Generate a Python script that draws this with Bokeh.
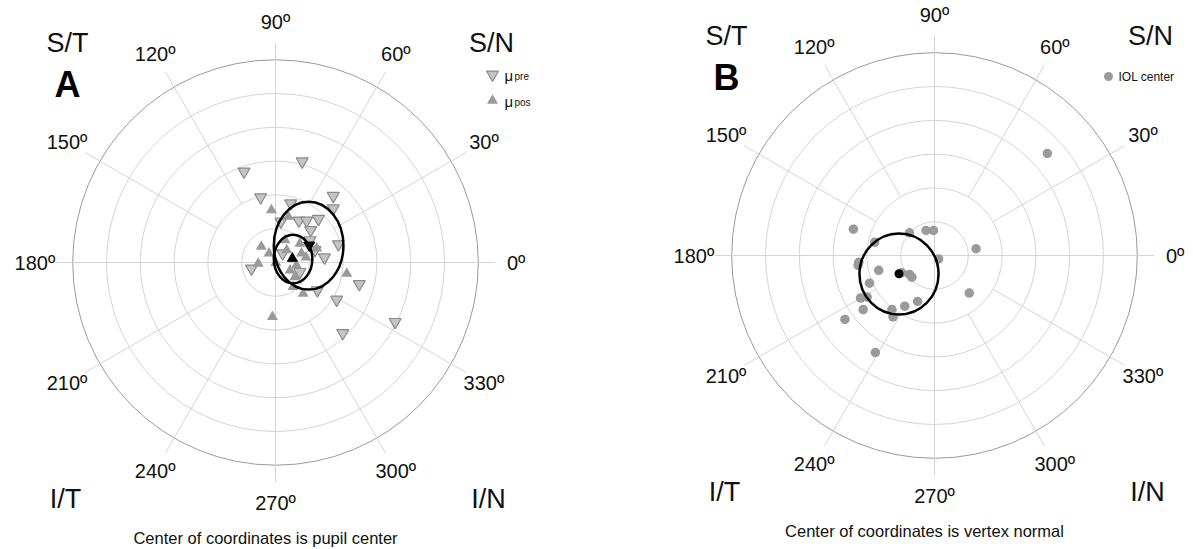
import numpy as np
from bokeh.plotting import figure
from bokeh.layouts import row
from bokeh.models import Range1d
from bokeh.core.properties import value
from bokeh.embed import file_html
from bokeh.resources import INLINE

# ---------------- data (ring units: one ring = 1) ----------------
angle_ticks = [0, 30, 60, 90, 120, 150, 180, 210, 240, 270, 300, 330]
angle_labels = ["0º", "30º", "60º", "90º", "120º", "150º", "180º", "210º", "240º", "270º", "300º", "330º"]
rings = [1, 2, 3, 4, 5, 6]

# Panel A: decentration relative to pupil center
pre_x = [-0.93, 0.79, -0.44, 0.45, 1.71, 1.71, 0.69, 0.92, 1.27, 0.16, 1.04, 1.86,
         1.45, 0.21, -0.71, 0.72, 2.48, 1.24, 1.81, 3.54, 1.99, 1.02, 1.17]
pre_y = [2.69, 2.99, 1.93, 1.75, 1.97, 1.60, 1.24, 1.24, 1.29, 1.21, 0.96, 0.54,
         0.15, 0.27, -0.18, -0.28, -0.64, -0.82, -1.10, -1.76, -2.09, 0.66, 0.37]
pos_x = [-0.12, 0.38, -0.42, -0.19, -0.51, 0.01, 0.33, 0.72, 1.22, 0.90, 0.62, 0.43,
         0.57, 0.52, 0.82, 2.11, -0.09, 0.28, 0.77]
pos_y = [1.55, 1.36, 0.47, 0.27, -0.03, -0.01, 0.37, 0.56, 0.42, 0.15, -0.08, -0.23,
         -0.43, -0.72, -0.92, -0.33, -1.61, 0.66, 0.27]
mean_pre = (1.00, 0.51)
mean_pos = (0.50, 0.12)
ell_pre = (0.98, 0.50, 2.06, 2.60)   # cx, cy, width, height
ell_pos = (0.52, 0.10, 1.14, 1.44)

# Panel B: IOL center relative to vertex normal
iol_x = [-2.40, -0.74, -0.25, -0.03, 1.23, -1.77, -2.24, -2.26, -1.65, 0.12, -0.74, -0.67,
         -1.92, -2.19, -1.99, -2.11, -2.65, -1.26, -1.23, -0.88, -0.50, 1.03, -1.75, 3.34, -0.97]
iol_y = [0.78, 0.67, 0.74, 0.74, 0.20, 0.39, -0.20, -0.29, -0.44, -0.10, -0.56, -0.64,
         -0.82, -1.26, -1.23, -1.60, -1.89, -1.60, -1.82, -1.50, -1.36, -1.11, -2.87, 3.02, -0.51]
mean_iol = (-1.05, -0.54)
ell_iol = (-1.05, -0.55, 2.34, 2.40)

# ---------------- layout ----------------
SCALE = 33.8
FONT = "Liberation Sans"
TOP, BOTTOM = 0, 549


def base_fig(cx, cy, left, width):
    x0 = (left - cx) / SCALE
    x1 = (left + width - cx) / SCALE
    y1 = (cy - TOP) / SCALE
    y0 = -(BOTTOM - cy) / SCALE
    p = figure(width=width, height=BOTTOM - TOP, x_range=Range1d(x0, x1), y_range=Range1d(y0, y1),
               output_backend="svg", toolbar_location=None, min_border=0)
    p.axis.visible = False
    p.grid.visible = False
    p.outline_line_color = None
    p.background_fill_color = "white"
    p.border_fill_color = "white"

    # rings
    p.circle(x=[0] * 5, y=[0] * 5, radius=rings[:5], fill_color=None, line_color="#d4d4d4", line_width=1)
    p.circle(x=[0], y=[0], radius=[rings[-1]], fill_color=None, line_color="#9a9a9a", line_width=1)
    # spokes
    a = np.deg2rad(np.array(angle_ticks, dtype=float))
    r0 = np.array([0 if t % 90 == 0 else 2 for t in angle_ticks], dtype=float)
    r1 = 6.5
    p.segment(x0=r0 * np.cos(a), y0=r0 * np.sin(a), x1=r1 * np.cos(a), y1=r1 * np.sin(a),
              line_color="#d4d4d4", line_width=1)
    # angle labels
    rl = 7.12
    p.text(x=rl * np.cos(a), y=rl * np.sin(a), text=angle_labels, text_font=value(FONT),
           text_font_size=value("20px"), text_align="center", text_baseline="middle", text_color="#111111")
    # corner labels
    cl = dict(text_font=value(FONT), text_font_size=value("27px"), text_align="center",
              text_baseline="middle", text_color="#111111")
    p.text(x=[-208 / SCALE], y=[220 / SCALE], text=["S/T"], **cl)
    p.text(x=[216 / SCALE], y=[220 / SCALE], text=["S/N"], **cl)
    p.text(x=[-210 / SCALE], y=[-236 / SCALE], text=["I/T"], **cl)
    p.text(x=[213 / SCALE], y=[-236 / SCALE], text=["I/N"], **cl)
    return p


def caption(p, txt):
    p.text(x=[-10 / SCALE], y=[-275 / SCALE], text=[txt], text_font=value(FONT), text_font_size=value("16.5px"),
           text_align="center", text_baseline="middle", text_color="#111111")


def panel_letter(p, letter):
    p.text(x=[-208 / SCALE], y=[178 / SCALE], text=[letter], text_font=value(FONT),
           text_font_size=value("36px"), text_font_style="bold", text_align="center",
           text_baseline="middle", text_color="#000000")


# Panel A
pA = base_fig(275, 262, 0, 596)
pA.inverted_triangle(x=pre_x, y=pre_y, size=12, fill_color="#c4c4c4", line_color="#8a8a8a", line_width=1.2)
pA.triangle(x=pos_x, y=pos_y, size=11, fill_color="#9a9a9a", line_color=None)
pA.ellipse(x=[ell_pre[0]], y=[ell_pre[1]], width=[ell_pre[2]], height=[ell_pre[3]],
           fill_color=None, line_color="black", line_width=2.5)
pA.ellipse(x=[ell_pos[0]], y=[ell_pos[1]], width=[ell_pos[2]], height=[ell_pos[3]],
           fill_color=None, line_color="black", line_width=2.5)
pA.inverted_triangle(x=[mean_pre[0]], y=[mean_pre[1]], size=11, fill_color="black", line_color="black")
pA.triangle(x=[mean_pos[0]], y=[mean_pos[1]], size=10, fill_color="black", line_color="black")
# legend A
lx, ly1, ly2 = 217 / SCALE, 188 / SCALE, 162 / SCALE
pA.inverted_triangle(x=[lx], y=[ly1], size=12, fill_color="#c4c4c4", line_color="#8a8a8a", line_width=1.2)
pA.triangle(x=[lx], y=[ly2], size=11, fill_color="#9a9a9a", line_color=None)
mu = dict(text_font=value(FONT), text_font_size=value("15px"), text_align="left",
          text_baseline="middle", text_color="#111111")
sub = dict(text_font=value(FONT), text_font_size=value("10px"), text_align="left",
           text_baseline="middle", text_color="#111111")
pA.text(x=[lx + 12 / SCALE], y=[ly1 - 1 / SCALE], text=["μ"], **mu)
pA.text(x=[lx + 22 / SCALE], y=[ly1 - 2 / SCALE], text=["pre"], **sub)
pA.text(x=[lx + 12 / SCALE], y=[ly2 - 1 / SCALE], text=["μ"], **mu)
pA.text(x=[lx + 22 / SCALE], y=[ly2 - 2 / SCALE], text=["pos"], **sub)
panel_letter(pA, "A")
caption(pA, "Center of coordinates is pupil center")

# Panel B
pB = base_fig(934, 255, 596, 597)
pB.scatter(x=iol_x, y=iol_y, size=9.5, marker="circle", fill_color="#9a9a9a", line_color=None)
pB.ellipse(x=[ell_iol[0]], y=[ell_iol[1]], width=[ell_iol[2]], height=[ell_iol[3]],
           fill_color=None, line_color="black", line_width=2.5)
pB.scatter(x=[mean_iol[0]], y=[mean_iol[1]], size=9, marker="circle", fill_color="black", line_color=None)
bx, by = 174 / SCALE, 179 / SCALE
pB.scatter(x=[bx], y=[by], size=9, marker="circle", fill_color="#9a9a9a", line_color=None)
pB.text(x=[bx + 10 / SCALE], y=[by], text=["IOL center"], text_font=value(FONT),
        text_font_size=value("12px"), text_align="left", text_baseline="middle", text_color="#111111")
panel_letter(pB, "B")
caption(pB, "Center of coordinates is vertex normal")

layout = row(pA, pB)
open("out.html", "w").write(file_html(layout, INLINE))
